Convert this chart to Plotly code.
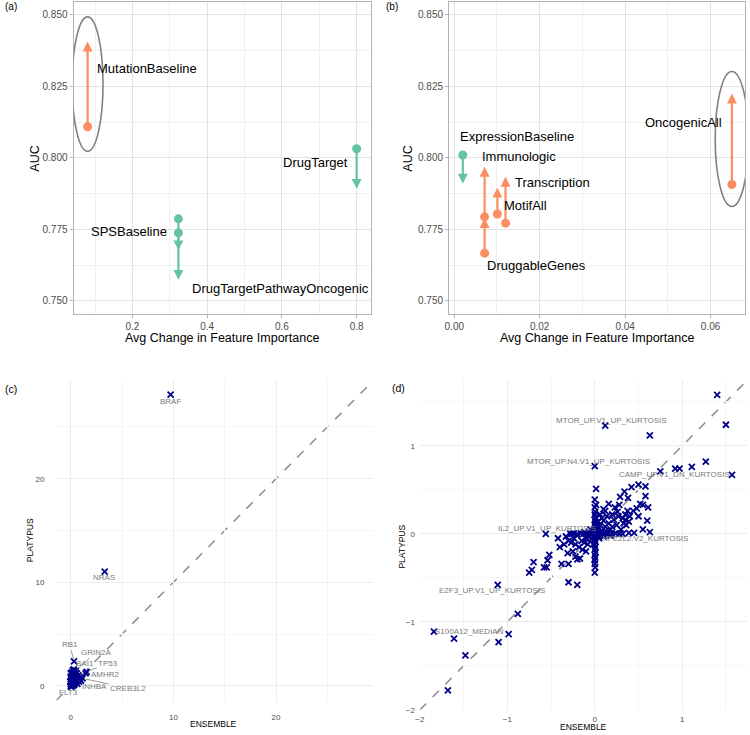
import plotly.graph_objects as go

FONT = "Liberation Sans, Arial, Helvetica, sans-serif"
ORANGE = "#FC8D62"
GREEN = "#66C2A5"
NAVY = "#00008B"

# ---------------- Panel (a) data ----------------
a_names = ["MutationBaseline", "DrugTarget", "SPSBaseline", "DrugTargetPathwayOncogenic"]
a_x = [0.08, 0.80, 0.323, 0.323]
a_auc_start = [0.8109, 0.8032, 0.7738, 0.7787]
a_auc_end = [0.8407, 0.7892, 0.7677, 0.7574]
a_group = ["up", "down", "down", "down"]

# ---------------- Panel (b) data ----------------
b_names = ["ExpressionBaseline", "Immunologic", "DruggableGenes", "MotifAll", "Transcription", "OncogenicAll"]
b_x = [0.002, 0.0071, 0.0071, 0.0101, 0.0120, 0.0650]
b_auc_start = [0.8010, 0.7794, 0.7667, 0.7804, 0.7772, 0.7907]
b_auc_end = [0.7910, 0.7969, 0.7790, 0.7896, 0.7934, 0.8225]
b_group = ["down", "up", "up", "up", "up", "up"]

# ---------------- Panel (c) data ----------------
c_ensemble = [9.73, 3.31, 0.32, 1.55, 1.45, 1.15, 0.6,
              0.2, 0.35, 0.45, 0.5, 0.3, 0.15, 0.4, 0.25, 0.1, 0.5, 0.6, 0.35, 0.2, 0.05,
              0.45, 0.7, 0.3, 0.15, 0.0, 0.4, 0.55, 0.25, 0.1, 0.0, 0.05, 0.2, 0.35, 0.8,
              0.9, 0.65, 0.0, -0.05, 0.1, 0.0, 0.3, 0.6, 0.75, 0.85, 1.0, 0.05]
c_platypus = [28.13, 11.03, 2.37, 1.35, 1.2, 0.72, 0.5,
              1.5, 1.4, 1.3, 1.45, 1.2, 1.1, 1.0, 0.9, 0.8, 0.85, 0.9, 0.7, 0.6, 0.5,
              0.55, 0.65, 0.4, 0.3, 0.2, 0.25, 0.3, 0.15, 0.05, 0.0, -0.1, 0.0, 0.1, 0.4,
              0.6, 0.2, 0.9, 0.4, 1.3, 1.2, 1.6, 1.2, 1.0, 0.8, 0.5, 0.7]
c_labels = ["BRAF", "NRAS", "RB1", "GRIN2A", "BAI1", "TP53", "AMHR2", "INHBA", "CREB3L2", "FLT3"]
c_label_pt_x = [9.73, 3.31, 0.32, 0.45, 0.35, 1.6, 1.5, 0.5, 1.15, 0.2]
c_label_pt_y = [28.13, 11.03, 2.37, 1.45, 1.35, 1.4, 1.25, 0.6, 0.72, 0.1]

# ---------------- Panel (d) data ----------------
d_points = [
    (1.40, 1.58), (1.50, 1.24), (0.12, 1.23), (0.63, 1.12), (1.27, 0.82), (1.11, 0.76),
    (0.97, 0.74), (0.92, 0.74), (0.00, 0.77), (0.75, 0.71), (1.57, 0.67), (0.015, 0.51),
    (0.50, 0.56), (0.58, 0.54), (0.42, 0.53), (0.34, 0.48), (0.58, 0.43), (0.38, 0.41),
    (0.29, 0.42), (0.00, 0.39), (0.015, 0.33), (0.16, 0.34), (0.28, 0.33), (0.52, 0.34),
    (0.55, 0.33), (0.61, 0.30), (0.48, 0.29), (0.44, 0.26), (0.375, 0.26), (0.12, 0.26),
    (0.23, 0.30), (0.60, 0.15), (0.35, 0.16), (0.39, 0.14), (0.33, 0.12), (0.63, 0.02),
    (0.45, 0.01), (0.39, 0.01), (-0.56, 0.0), (-0.42, -0.05), (-0.33, -0.03), (-0.52, -0.24),
    (-0.70, -0.32), (-0.72, -0.41), (-0.75, -0.44), (-0.58, -0.38), (-0.55, -0.38),
    (-0.54, -0.30), (-0.38, -0.34), (-0.30, -0.34), (-0.31, -0.22), (-0.22, -0.26),
    (-0.20, -0.29), (-0.17, -0.28), (0.00, -0.44), (-0.30, -0.55), (-0.20, -0.58),
    (-1.11, -0.58), (-0.88, -0.91), (-0.985, -1.14), (-1.10, -1.23), (-1.84, -1.11),
    (-1.61, -1.19), (-1.48, -1.38), (-1.68, -1.78),
    # vertical column near ensemble = 0
    (0.0, 0.30), (0.005, 0.25), (0.0, 0.22), (0.01, 0.19), (0.0, 0.16), (0.005, 0.13),
    (0.0, 0.10), (0.01, 0.08), (0.0, 0.06), (0.005, 0.04), (0.0, 0.02), (0.0, -0.02),
    (0.005, -0.04), (0.0, -0.06), (0.01, -0.09), (0.0, -0.12), (0.005, -0.15), (0.0, -0.18),
    (0.01, -0.21), (0.0, -0.24), (0.005, -0.27), (0.0, -0.30), (0.0, -0.34), (0.005, -0.38),
    # horizontal row near platypus = 0
    (-0.28, 0.0), (-0.24, 0.005), (-0.20, 0.0), (-0.16, 0.005), (-0.13, 0.0), (-0.10, 0.0),
    (-0.07, 0.005), (-0.05, 0.0), (-0.03, 0.0), (0.03, 0.0), (0.05, 0.005), (0.07, 0.0),
    (0.10, 0.0), (0.13, 0.005), (0.16, 0.0), (0.20, 0.0), (0.24, 0.005), (0.28, 0.0), (0.32, 0.0),
    # diagonal band
    (-0.25, -0.20), (-0.22, -0.12), (-0.18, -0.15), (-0.15, -0.08), (-0.12, -0.10),
    (-0.10, -0.05), (-0.08, -0.12), (-0.06, -0.03), (-0.04, -0.06), (-0.27, -0.10),
    (-0.24, -0.05), (-0.20, -0.02), (-0.14, -0.18), (-0.10, -0.20), (0.04, 0.06),
    (0.06, 0.10), (0.08, 0.04), (0.10, 0.15), (0.12, 0.08), (0.14, 0.20), (0.16, 0.12),
    (0.18, 0.05), (0.20, 0.22), (0.22, 0.16), (0.25, 0.10), (0.27, 0.20), (0.30, 0.05),
    (0.06, 0.22), (0.08, 0.18), (0.04, 0.14), (0.10, 0.28), (0.20, 0.08), (0.13, 0.03),
    (0.26, 0.25), (0.32, 0.18), (-0.05, 0.05), (0.05, -0.05), (0.02, 0.10), (-0.02, -0.12),
    (0.10, -0.03), (0.18, -0.02), (0.35, 0.22), (0.40, 0.20), (0.36, 0.10), (0.55, 0.05),
    (0.50, 0.20), (-0.35, -0.12), (-0.40, -0.15), (-0.30, -0.08), (-0.26, 0.0), (-0.12, 0.02),
]
d_ensemble = [p[0] for p in d_points]
d_platypus = [p[1] for p in d_points]
d_labels = ["MTOR_UP.V1_UP_KURTOSIS", "MTOR_UP.N4.V1_UP_KURTOSIS", "CAMP_UP.V1_DN_KURTOSIS",
            "IL2_UP.V1_UP_KURTOSIS", "NFE2L2.V2_KURTOSIS", "E2F3_UP.V1_UP_KURTOSIS", "S100A12_MEDIAN"]

# ---------------- label placement (styling) ----------------
a_lab_pos = [(0.101, 0.8312, "left"), (0.781, 0.7983, "right"),
             (0.2976, 0.7743, "right"), (0.353, 0.7542, "left")]
b_lab_pos = [(0.00086, 0.8076, "left"), (0.00598, 0.80035, "left"), (0.00714, 0.7625, "left"),
             (0.01126, 0.7833, "left"), (0.01381, 0.7913, "left"), (0.06312, 0.8125, "right")]
c_lab_pos = [(9.73, 27.5), (3.28, 10.5), (-0.1, 4.0), (2.48, 3.23), (1.35, 2.18), (3.66, 2.18),
             (3.37, 1.12), (2.31, -0.03), (5.59, -0.22), (-0.19, -0.6)]
c_lab_line = [False, False, True, True, True, True, True, True, True, True]
d_lab_pos = [(0.19, 1.287), (-0.072, 0.824), (0.917, 0.674), (-0.552, 0.056),
             (0.576, -0.049), (-1.174, -0.647), (-1.435, -1.106)]

W, H = 750, 735
def px_x(p):
    return p / W
def px_y(p):
    return 1 - p / H

fig = go.Figure()
annotations = []
shapes = []

def color_of(g):
    return ORANGE if g == "up" else GREEN

# panel (a)/(b) traces
for names, xs, s, e, grp, lab, xr, yr in [
    (a_names, a_x, a_auc_start, a_auc_end, a_group, a_lab_pos, "x", "y"),
    (b_names, b_x, b_auc_start, b_auc_end, b_group, b_lab_pos, "x2", "y2"),
]:
    cols = [color_of(g) for g in grp]
    for i in range(len(names)):
        annotations.append(dict(
            x=xs[i], y=e[i], ax=xs[i], ay=s[i], xref=xr, yref=yr, axref=xr, ayref=yr,
            text="", showarrow=True, arrowhead=2, arrowsize=0.9, arrowwidth=2.2,
            arrowcolor=cols[i], standoff=0, startstandoff=0))
    fig.add_trace(go.Scatter(
        x=xs, y=s, mode="markers", xaxis=xr, yaxis=yr, showlegend=False,
        marker=dict(size=9, color=cols, line=dict(width=0)), hoverinfo="skip"))
    for i, nm in enumerate(names):
        lx, ly, anc = lab[i]
        annotations.append(dict(
            x=lx, y=ly, xref=xr, yref=yr, text=nm, showarrow=False, xanchor=anc,
            yanchor="middle", font=dict(family=FONT, size=13, color="black")))

# ellipses around highlighted series
for xs, s, e, xr, yr, idx, hw, hh in [
    (a_x, a_auc_start, a_auc_end, "x", "y", 0, 0.0413, 0.0235),
    (b_x, b_auc_start, b_auc_end, "x2", "y2", 5, 0.0039, 0.0236),
]:
    cy = (s[idx] + e[idx]) / 2
    shapes.append(dict(type="circle", xref=xr, yref=yr,
                       x0=xs[idx] - hw, x1=xs[idx] + hw, y0=cy - hh, y1=cy + hh,
                       line=dict(color="#808080", width=1.6), layer="above"))

# panel (c)
fig.add_trace(go.Scatter(
    x=c_ensemble, y=c_platypus, mode="markers", xaxis="x3", yaxis="y3", showlegend=False,
    marker=dict(symbol="x-thin", size=6, line=dict(width=1.8, color=NAVY), color=NAVY),
    hoverinfo="skip"))
for i, nm in enumerate(c_labels):
    lx, ly = c_lab_pos[i]
    if c_lab_line[i]:
        annotations.append(dict(
            x=c_label_pt_x[i], y=c_label_pt_y[i], ax=lx, ay=ly, xref="x3", yref="y3",
            axref="x3", ayref="y3", text=nm, showarrow=True, arrowhead=0, arrowwidth=0.6,
            arrowcolor="#555555", standoff=2,
            font=dict(family=FONT, size=8, color="#7a7a7a")))
    else:
        annotations.append(dict(
            x=lx, y=ly, xref="x3", yref="y3", text=nm, showarrow=False,
            font=dict(family=FONT, size=8, color="#7a7a7a")))

# panel (d)
fig.add_trace(go.Scatter(
    x=d_ensemble, y=d_platypus, mode="markers", xaxis="x4", yaxis="y4", showlegend=False,
    marker=dict(symbol="x-thin", size=6, line=dict(width=1.8, color=NAVY), color=NAVY),
    hoverinfo="skip"))
for i, nm in enumerate(d_labels):
    lx, ly = d_lab_pos[i]
    annotations.append(dict(
        x=lx, y=ly, xref="x4", yref="y4", text=nm, showarrow=False,
        font=dict(family=FONT, size=8, color="#7a7a7a")))

# ranges
ra_x = [0.0424, 0.8372]
ra_y = [0.74549, 0.85451]
rb_x = [-0.00123, 0.06808]
rc_x = [-1.4, 29.4]
rc_y = [-1.55, 29.5]
rd_x = [-2.0, 1.745]
rd_y = [-2.0, 1.744]

# dashed identity lines
for xr, yr, rx, ry in [("x3", "y3", rc_x, rc_y), ("x4", "y4", rd_x, rd_y)]:
    lo = max(rx[0], ry[0])
    hi = min(rx[1], ry[1])
    shapes.append(dict(type="line", xref=xr, yref=yr, x0=lo, y0=lo, x1=hi, y1=hi,
                       line=dict(color="#8c8c8c", width=1.5, dash="dash"), layer="below"))

tick_font_ab = dict(family=FONT, size=10, color="#4d4d4d")
tick_font_cd = dict(family=FONT, size=8, color="#4d4d4d")

def ax_light(domain, rng, dtick, minor, anchor, fmt=None):
    d = dict(domain=domain, range=rng, dtick=dtick, tick0=0, showgrid=True,
             gridcolor="#e3e3e3", gridwidth=0.8, zeroline=False,
             showline=True, mirror=True, linecolor="#b3b3b3", linewidth=1,
             ticks="outside", ticklen=3, tickcolor="#b3b3b3", tickwidth=1,
             tickfont=tick_font_ab, anchor=anchor,
             minor=dict(dtick=minor, tick0=0, showgrid=True, gridcolor="#f0f0f0",
                        gridwidth=0.5, ticks=""))
    if fmt:
        d["tickformat"] = fmt
    return d

def ax_min(domain, rng, dtick, minor, anchor, standoff):
    return dict(domain=domain, range=rng, dtick=dtick, tick0=0, showgrid=True,
                gridcolor="#ececec", gridwidth=0.8, zeroline=False, showline=False,
                ticks="", tickfont=tick_font_cd, anchor=anchor, ticklabelstandoff=standoff,
                minor=dict(dtick=minor, tick0=0, showgrid=True, gridcolor="#f5f5f5",
                           gridwidth=0.5))

layout = dict(
    width=W, height=H, margin=dict(l=0, r=0, t=0, b=0),
    paper_bgcolor="white", plot_bgcolor="white", showlegend=False,
    font=dict(family=FONT),
    xaxis=ax_light([px_x(69), px_x(368)], ra_x, 0.2, 0.1, "y", ".1f"),
    yaxis=ax_light([px_y(316), px_y(2)], ra_y, 0.025, 0.0125, "x", ".3f"),
    xaxis2=ax_light([px_x(447), px_x(745)], rb_x, 0.02, 0.01, "y2", ".2f"),
    yaxis2=ax_light([px_y(316), px_y(2)], ra_y, 0.025, 0.0125, "x2", ".3f"),
    xaxis3=ax_min([px_x(51.7), px_x(370)], rc_x, 10, 5, "y3", 9),
    yaxis3=ax_min([px_y(706.7), px_y(383)], rc_y, 10, 5, "x3", 11),
    xaxis4=ax_min([px_x(417.7), px_x(747.3)], rd_x, 1, 0.5, "y4", 3),
    yaxis4=ax_min([px_y(714.7), px_y(383)], rd_y, 1, 0.5, "x4", 4),
)

# axis titles and panel tags
def paper_text(txt, x, y, size, angle=0, color="black"):
    annotations.append(dict(x=px_x(x), y=px_y(y), xref="paper", yref="paper", text=txt,
                            showarrow=False, textangle=angle, xanchor="center",
                            yanchor="middle", font=dict(family=FONT, size=size, color=color)))

paper_text("AUC", 30, 160, 12.5, -90)
paper_text("Avg Change in Feature Importance", 218, 340, 12.5)
paper_text("AUC", 405.5, 160, 12.5, -90)
paper_text("Avg Change in Feature Importance", 596, 340, 12.5)
paper_text("PLATYPUS", 25, 544, 8.5, -90)
paper_text("ENSEMBLE", 210, 729, 8.5)
paper_text("PLATYPUS", 400, 550, 8.5, -90)
paper_text("ENSEMBLE", 582.7, 731.5, 8.5)
paper_text("(a)", 6, 7, 10)
paper_text("(b)", 390, 7, 10)
paper_text("(c)", 6, 392, 10.5)
paper_text("(d)", 396, 391, 10.5)

layout["annotations"] = annotations
layout["shapes"] = shapes
fig.update_layout(**layout)
fig.write_html("out.html", config={"displayModeBar": False},
               post_script="document.body.style.margin='0';document.body.style.overflow='hidden';")
